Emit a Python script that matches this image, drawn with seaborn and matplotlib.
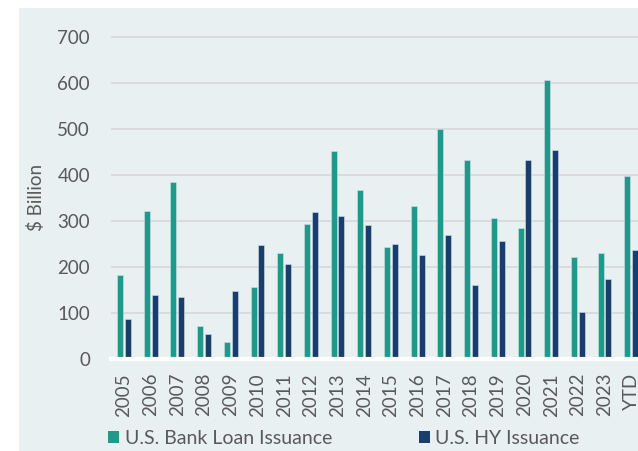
import matplotlib
matplotlib.use("Agg")
import matplotlib.pyplot as plt
from matplotlib.patches import Rectangle, Patch
import seaborn as sns
import pandas as pd

# --- data ($ billion) ---
years = ["2005", "2006", "2007", "2008", "2009", "2010", "2011", "2012", "2013", "2014",
         "2015", "2016", "2017", "2018", "2019", "2020", "2021", "2022", "2023", "YTD"]
bank_loan = [182, 321, 385, 71, 37, 156, 230, 294, 452, 367,
             243, 334, 501, 432, 306, 286, 607, 222, 231, 398]
hy_bond = [87, 140, 134, 54, 148, 249, 206, 320, 311, 291,
           251, 227, 270, 161, 257, 432, 455, 103, 173, 237]
series_names = ["U.S. Bank Loan Issuance", "U.S. HY Issuance"]
colors = ["#1E9A8B", "#1B3D6D"]

df = pd.DataFrame({
    "Year": years * 2,
    "Issuance": bank_loan + hy_bond,
    "Series": [series_names[0]] * len(years) + [series_names[1]] * len(years),
})

sns.set_style("white")
plt.rcParams["font.family"] = ["Lato", "DejaVu Sans"]

text_color = "#595959"
panel_color = "#E8F0F2"

fig = plt.figure(figsize=(6.38, 4.51), dpi=100)
fig.patch.set_facecolor("white")
# light panel behind the chart
fig.patches.append(Rectangle((19 / 638, 0), 1, 1 - 8 / 451, transform=fig.transFigure,
                             facecolor=panel_color, edgecolor="none", zorder=-5))

ax = fig.add_axes([110.6 / 638, 1 - 359 / 451, 534 / 638, 322.6 / 451])
ax.set_facecolor("none")

sns.barplot(data=df, x="Year", y="Issuance", hue="Series", order=years,
            hue_order=series_names, palette=colors, width=0.58, gap=0.22,
            saturation=1, edgecolor="#CFE3E6", linewidth=0.4, legend=False, ax=ax)

ax.set_xlim(-0.5, 19.5)
ax.set_ylim(0, 702)
ax.set_yticks(range(0, 701, 100))
ax.set_axisbelow(True)
ax.yaxis.grid(True, color="#D8DADB", linewidth=1.3)
ax.xaxis.grid(False)

for side in ["top", "right", "left"]:
    ax.spines[side].set_visible(False)
ax.spines["bottom"].set_color("white")
ax.spines["bottom"].set_linewidth(3)

ax.tick_params(axis="y", length=0, pad=14.8, labelsize=13.5, labelcolor=text_color)
ax.tick_params(axis="x", length=0, pad=10, labelsize=13.5, labelcolor=text_color,
               labelrotation=90)
ax.set_xlabel("")
ax.set_ylabel("$ Billion", fontsize=13.5, color=text_color, labelpad=9)

handles = [Patch(facecolor=c, edgecolor="none") for c in colors]
fig.legend(handles, series_names, loc="center left",
           bbox_to_anchor=(108 / 638, 1 - 438 / 451), ncol=2, frameon=False,
           fontsize=14, labelcolor=text_color, handlelength=0.56, handleheight=0.56,
           handletextpad=0.3, columnspacing=4.45, borderpad=0, borderaxespad=0)

fig.savefig("out.png", dpi=100, facecolor="white")
